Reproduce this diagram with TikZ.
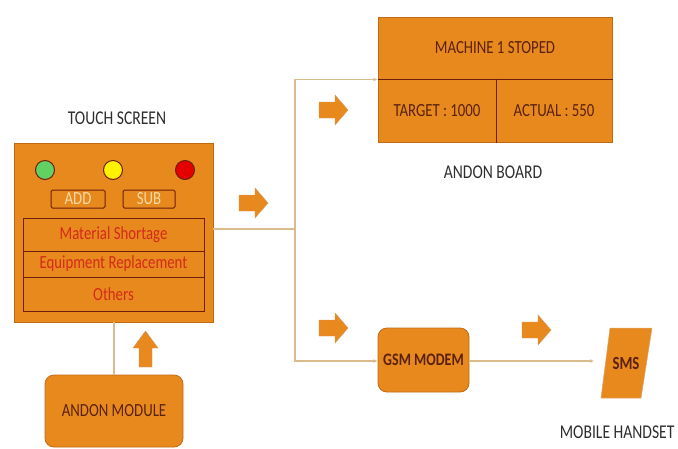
\documentclass[tikz,border=0pt]{standalone}
\usepackage{fontspec}
\setmainfont{Carlito}[FakeStretch=0.8]
\usetikzlibrary{arrows.meta}
\definecolor{org}{HTML}{E8891E}
\definecolor{orgedge}{HTML}{C06A12}
\definecolor{brn}{HTML}{5A220C}
\definecolor{maroon}{HTML}{6E1E0C}
\definecolor{conn}{HTML}{D9BB8C}
\definecolor{lbl}{HTML}{2E2E2E}
\definecolor{redtxt}{HTML}{D42A1A}
\definecolor{btntxt}{HTML}{F6D9A6}
\tikzset{
  obox/.style={draw=orgedge, fill=org, line width=0.8pt},
  cell/.style={draw=maroon, line width=1pt, fill=org, inner sep=0pt},
  rtxt/.style={text=redtxt, font=\fontsize{18.5}{20}\selectfont},
  btxt/.style={text=brn, font=\fontsize{18.5}{20}\selectfont},
  lab/.style={text=lbl, font=\fontsize{19.5}{21}\selectfont},
  btn/.style={draw=maroon, line width=1pt, fill=org, rounded corners=1.5pt, inner sep=0pt, text=btntxt, font=\fontsize{18.5}{20}\selectfont},
  lamp/.style={circle, draw=maroon, line width=1pt, minimum size=19pt, inner sep=0pt},
  wire/.style={draw=conn, line width=1.3pt},
  wirearr/.style={wire, -{Latex[length=4pt,width=4pt]}},
  blockarrow/.pic={\fill[org, draw=orgedge!70, line width=0.4pt] (-15,-8) -- (1,-8) -- (1,-15) -- (14,0) -- (1,15) -- (1,8) -- (-15,8) -- cycle;}
}
\begin{document}
\begin{tikzpicture}[x=1pt,y=-1pt]
\useasboundingbox (0,0) rectangle (678,448);
% touch screen
\node[lab] (tslab) at (117,118) {TOUCH SCREEN};
\node[obox, minimum width=199pt, minimum height=179pt, inner sep=0pt] (ts) at (113.5,232.5) {};
\node[lamp, fill=green!55!gray!80] (lg) at (45,170) {};
\node[lamp, fill=yellow] (ly) at (113,170) {};
\node[lamp, fill=red!90!black] (lr) at (185,170) {};
\node[btn, minimum width=54pt, minimum height=18pt] (add) at (78,199) {ADD};
\node[btn, minimum width=52pt, minimum height=18pt] (sub) at (149,199) {SUB};
\node[cell, rtxt, minimum width=181pt, minimum height=33pt] (r1) at (113.5,234.5) {Material Shortage};
\node[cell, rtxt, minimum width=181pt, minimum height=26pt] (r2) at (113.5,264) {Equipment Replacement};
\node[cell, rtxt, minimum width=181pt, minimum height=34pt] (r3) at (113.5,294) {Others};
% andon module
\node[obox, rounded corners=9pt, minimum width=138pt, minimum height=72pt, btxt] (mod) at (114,411) {ANDON MODULE};
% andon board
\node[cell, btxt, draw=orgedge, minimum width=234pt, minimum height=62pt] (ab1) at (495,48) {MACHINE 1 STOPED};
\node[cell, btxt, draw=orgedge, minimum width=118pt, minimum height=63pt] (ab2) at (437,110.5) {TARGET : 1000};
\node[cell, btxt, draw=orgedge, minimum width=116pt, minimum height=63pt] (ab3) at (554,110.5) {ACTUAL : 550};
\draw[maroon, line width=1.2pt] (ab1.south west) -- (ab1.south east);
\draw[maroon, line width=1.2pt] (ab2.north east) -- (ab2.south east);
\node[lab] (ablab) at (493,172) {ANDON BOARD};
% gsm
\node[obox, rounded corners=9pt, minimum width=91pt, minimum height=64pt, inner sep=1pt, btxt, font=\fontsize{17.5}{20}\selectfont\bfseries] (gsm) at (423.5,360) {GSM MODEM};
% sms
\fill[org, draw=orgedge!60, line width=0.5pt] (610,328) -- (652,328) -- (641,398) -- (601,398) -- cycle;
\node[btxt, font=\fontsize{18.5}{20}\selectfont\bfseries] (sms) at (626,363) {SMS};
\coordinate (smsin) at (594,361);
\node[lab, anchor=east] (mhlab) at (678,432) {MOBILE HANDSET};
% wires
\coordinate (j) at (295,229);
\draw[wire] (ts.east |- j) -- (j);
\draw[wirearr] (j) |- (ab2.west |- ab1.south);
\draw[wirearr] (j) |- (gsm.west |- smsin);
\draw[wirearr] (gsm.east |- smsin) -- (smsin);
\draw[wire] (ts.south -| mod.north) -- (mod.north);
% block arrows
\pic at (254,203) {blockarrow};
\pic at (334,110) {blockarrow};
\pic at (334,328) {blockarrow};
\pic at (537,330) {blockarrow};
\fill[org, draw=orgedge!70, line width=0.4pt] (139,367) -- (139,348) -- (133,348) -- (145.5,331) -- (158,348) -- (152,348) -- (152,367) -- cycle;
\end{tikzpicture}
\end{document}
